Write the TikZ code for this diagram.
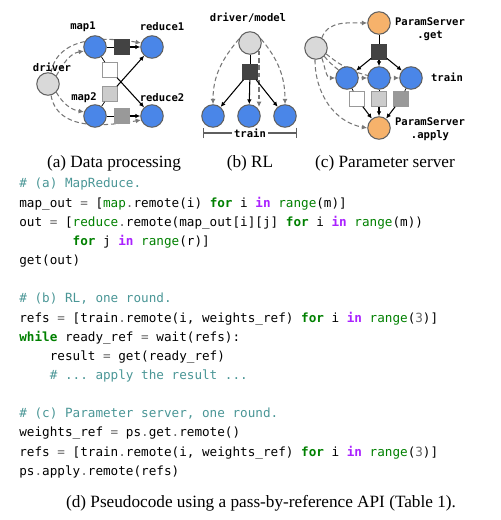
\documentclass[tikz,border=0pt]{standalone}
\usepackage{fontspec}
\setmainfont{Liberation Serif}
\setmonofont{DejaVu Sans Mono}
\usetikzlibrary{positioning}
\usetikzlibrary{arrows.meta}
\usetikzlibrary{backgrounds}

\definecolor{nodeblue}{HTML}{4A86E8}
\definecolor{psorange}{HTML}{F6B26B}
\definecolor{drvgray}{HTML}{D9D9D9}
\definecolor{objdark}{HTML}{434343}
\definecolor{objmid}{HTML}{999999}
\definecolor{objlight}{HTML}{CCCCCC}
\definecolor{edgegray}{HTML}{5F5F5F}
\definecolor{callgray}{HTML}{777777}
\definecolor{cmtcol}{HTML}{4A9696}
\definecolor{kwgreen}{HTML}{008000}
\definecolor{kwpurple}{HTML}{AA22FF}
\definecolor{opgray}{HTML}{666666}

\newcommand{\kw}[1]{\textcolor{kwgreen}{\bfseries #1}}
\newcommand{\kin}[1]{\textcolor{kwpurple}{\bfseries #1}}
\newcommand{\bif}[1]{\textcolor{kwgreen}{#1}}
\newcommand{\cmt}[1]{\textcolor{cmtcol}{#1}}
\newcommand{\opr}[1]{\textcolor{opgray}{#1}}
\newcommand{\ind}[1]{\hspace*{#1\fontcharwd\font`x}}

\tikzset{
  task/.style={circle, draw=edgegray, fill=nodeblue, minimum size=0.45cm, inner sep=0pt, line width=0.6pt},
  drv/.style={task, fill=drvgray},
  psrv/.style={task, fill=psorange},
  obj/.style={rectangle, draw=objmid, minimum size=0.29cm, inner sep=0pt, line width=0.6pt},
  lbl/.style={font=\ttfamily\bfseries\fontsize{6}{7.4}\selectfont, inner sep=0pt},
  flow/.style={-{Latex[length=2.8pt,width=2.6pt]}, line width=0.6pt},
  call/.style={-{Latex[length=3pt,width=2.8pt]}, callgray, line width=0.6pt, dash pattern=on 2.6pt off 1.6pt},
  capt/.style={font=\fontsize{9.8}{12}\selectfont, inner sep=0pt},
  code/.style={font=\ttfamily\fontsize{7.2}{10.9}\selectfont, align=left, inner sep=0pt}
}

\begin{document}
\begin{tikzpicture}[x=0.02cm, y=0.02cm]
\useasboundingbox (0,0) rectangle (500,-520);

% (a) data processing
\node[drv] (drva) at (48,-84) {};
\node[task] (map1) at (95,-47) {};
\node[task] (red1) at (152,-47) {};
\node[task] (map2) at (95,-116) {};
\node[task] (red2) at (152,-116) {};
\node[obj, fill=objdark, draw=objdark] (o11) at (122,-47) {};
\node[obj, fill=white] (o12) at (110,-70) {};
\node[obj, fill=objlight] (o21) at (110,-94) {};
\node[obj, fill=objmid] (o22) at (122,-116) {};
\node[lbl] (ldrva) at (52,-67) {driver};
\node[lbl] (lmap1) at (83,-27) {map1};
\node[lbl] (lred1) at (162,-27) {reduce1};
\node[lbl] (lmap2) at (84,-98) {map2};
\node[lbl] (lred2) at (162,-98) {reduce2};
\draw (map1) -- (o11);
\draw[flow] (o11) -- (red1);
\draw (map1) -- (o12);
\draw[flow] (o12) -- (red2);
\draw (map2) -- (o21);
\draw[flow] (o21) -- (red1);
\draw (map2) -- (o22);
\draw[flow] (o22) -- (red2);
\begin{scope}[on background layer]
\draw[call] (drva.75) to[out=80,in=170] (red1.160);
\draw[call] (drva.45) to[out=60,in=190] (map1.200);
\draw[call] (drva.-75) to[out=-80,in=-170] (red2.-160);
\draw[call] (drva.-45) to[out=-60,in=170] (map2.160);
\end{scope}

% (b) RL
\node[lbl] (ldm) at (248,-18) {driver/model};
\node[drv] (dm) at (250,-43) {};
\node[obj, fill=objdark, draw=objdark] (ob) at (250,-72) {};
\node[task] (tr1) at (213,-116) {};
\node[task] (tr2) at (249,-116) {};
\node[task] (tr3) at (285,-116) {};
\draw (dm) -- (ob);
\foreach \t in {tr1,tr2,tr3}
  \draw[flow] (ob) -- (\t);
\begin{scope}[on background layer]
\draw[call] (dm.160) to[out=230,in=90] (tr1.north);
\draw[call] (dm.20) to[out=-50,in=90] (tr3.north);
\draw[call] (dm.-40) -- (dm.-40 |- tr2.50);
\end{scope}
\coordinate (bl) at (203,-133);
\coordinate (br) at (297,-133);
\draw[{|[width=6pt]}-{|[width=6pt]}, line width=0.6pt, edgegray] (bl) -- node[lbl, fill=white, inner xsep=1pt, text=black] (ltr) {train} (br);

% (c) parameter server
\node[drv] (psd) at (316,-48) {};
\node[psrv] (get) at (379,-23) {};
\node[obj, fill=objdark, draw=objdark] (oc) at (379,-52) {};
\node[task] (w1) at (347,-78) {};
\node[task] (w2) at (379,-78) {};
\node[task] (w3) at (411,-78) {};
\node[obj, fill=white] (ow1) at (357,-99) {};
\node[obj, fill=objlight] (ow2) at (379,-99) {};
\node[obj, fill=objmid] (ow3) at (401,-99) {};
\node[psrv] (apply) at (379,-128) {};
\node[lbl, align=center] (lget) at (430,-29) {ParamServer\\.get};
\node[lbl, align=center] (lapply) at (430,-129) {ParamServer\\.apply};
\node[lbl] (ltrain) at (447,-77) {train};
\draw (get) -- (oc);
\foreach \w in {w1,w2,w3}
  \draw[flow] (oc) -- (\w);
\draw (w1) -- (ow1);
\draw[flow] (ow1) -- (apply);
\draw (w2) -- (ow2);
\draw[flow] (ow2) -- (apply);
\draw (w3) -- (ow3);
\draw[flow] (ow3) -- (apply);
\begin{scope}[on background layer]
\draw[call] (psd.60) to[out=70,in=180] (get.west);
\draw[call] (psd.-95) to[out=-90,in=170] (apply.west);
\draw[call] (psd.-60) to[out=-70,in=180] (w1.west);
\draw[call] (psd.-45) to[out=-50,in=180] (w2.west);
\draw[call] (psd.-30) to[out=-40,in=180] (w3.west);
\end{scope}

% captions
\node[capt] (capa) at (114,-163) {(a) Data processing};
\node[capt] (capb) at (250,-163) {(b) RL};
\node[capt] (capc) at (385,-163) {(c) Parameter server};

% (d) pseudocode
\node[code, anchor=north west] (src) at (19,-178) {%
\cmt{\# (a) MapReduce.}\\
map\_out \opr{=} [\bif{map}\opr{.}remote(i) \kw{for} i \kin{in} \bif{range}(m)]\\
out \opr{=} [\bif{reduce}\opr{.}remote(map\_out[i][j] \kw{for} i \kin{in} \bif{range}(m))\\
\ind{7}\kw{for} j \kin{in} \bif{range}(r)]\\
get(out)\\
\mbox{}\\
\cmt{\# (b) RL, one round.}\\
refs \opr{=} [train\opr{.}remote(i, weights\_ref) \kw{for} i \kin{in} \bif{range}(\opr{3})]\\
\kw{while} ready\_ref \opr{=} wait(refs):\\
\ind{4}result \opr{=} get(ready\_ref)\\
\ind{4}\cmt{\# ... apply the result ...}\\
\mbox{}\\
\cmt{\# (c) Parameter server, one round.}\\
weights\_ref \opr{=} ps\opr{.}get\opr{.}remote()\\
refs \opr{=} [train\opr{.}remote(i, weights\_ref) \kw{for} i \kin{in} \bif{range}(\opr{3})]\\
ps\opr{.}apply\opr{.}remote(refs)};
\node[capt] (capd) at (261,-503) {(d) Pseudocode using a pass-by-reference API (Table 1).};
\end{tikzpicture}
\end{document}
